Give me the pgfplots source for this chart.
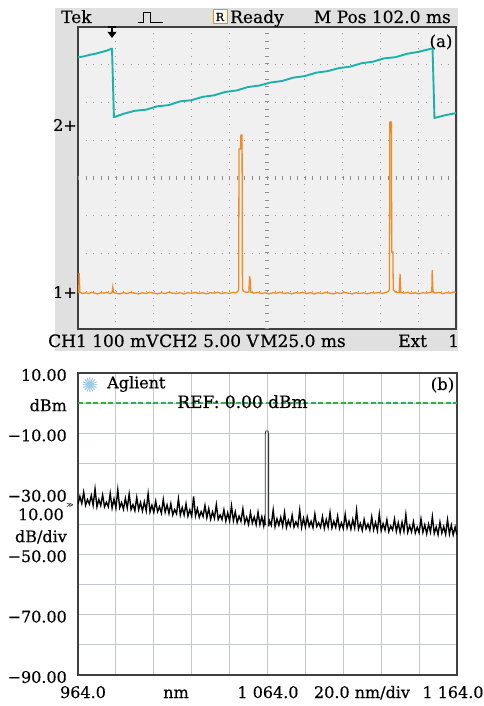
\documentclass[border=0pt]{standalone}
\usepackage{fontspec}
\setmainfont{DejaVu Serif}[FakeBold=0.4]
\newfontfamily\symfont{DejaVu Sans}
\usepackage{pgfplots}
\pgfplotsset{compat=1.18}
\definecolor{trcyan}{HTML}{1CB2AA}
\definecolor{trorange}{HTML}{F08A24}
\definecolor{scrbg}{HTML}{F0F0F0}
\definecolor{scrframe}{HTML}{E0E0E0}
\definecolor{scrgrid}{HTML}{9A9A9A}
\definecolor{osagrid}{HTML}{C3C7CE}
\definecolor{refgreen}{RGB}{40,180,75}
\definecolor{logoblue}{HTML}{9CCBE6}
\newcommand\fa{\fontsize{17}{20}\selectfont}
\newcommand\fb{\fontsize{16}{22}\selectfont}

\begin{document}
\begin{tikzpicture}
\begin{scope}[x=1pt,y=1pt]
  \path[use as bounding box] (0,0) rectangle (483,706);
  \fill[scrframe] (55,355) rectangle (458,698);
\end{scope}

% (a) oscilloscope screen, units are divisions
\begin{axis}[
  at={(78pt,377pt)}, anchor=south west, scale only axis,
  width=378pt, height=302pt,
  xmin=0, xmax=10, ymin=0, ymax=8,
  axis background/.style={fill=scrbg},
  axis line style={draw=black!75, line width=1.3pt},
  xtick={1,2,3,4,6,7,8,9}, ytick={1,2,3,5,6,7},
  xticklabels={}, yticklabels={}, major tick length=0pt,
  grid=major, grid style={scrgrid, line width=0.9pt, dash pattern=on 0.9pt off 6.66pt},
  extra x ticks={5}, extra y ticks={4}, extra x tick labels={}, extra y tick labels={},
  extra tick style={grid style={black!45, line width=3.5pt, dash pattern=on 0.9pt off 6.66pt}},
]
\addplot[trorange, line width=1.3pt] coordinates {
  (0,0.96) (0.02,0.97) (0.03,1.48) (0.05,0.97) (0.12,0.94) (0.2,0.96) (0.28,0.94) (0.36,0.97)
  (0.44,0.95) (0.52,0.93) (0.6,0.96) (0.68,0.95) (0.76,0.97) (0.84,0.94) (0.9,0.96) (0.92,1.11)
  (0.94,0.97) (1.0,0.95) (1.1,0.93) (1.2,0.96) (1.3,0.94) (1.4,0.97) (1.5,0.95) (1.6,0.93)
  (1.7,0.96) (1.8,0.94) (1.9,0.97) (2.0,0.95) (2.1,0.93) (2.2,0.96) (2.3,0.94) (2.4,0.97)
  (2.5,0.95) (2.6,0.94) (2.7,0.96) (2.8,0.93) (2.9,0.96) (3.0,0.95) (3.1,0.97) (3.2,0.94)
  (3.3,0.96) (3.4,0.93) (3.5,0.96) (3.6,0.95) (3.7,0.97) (3.8,0.94) (3.9,0.96) (4.0,0.94)
  (4.1,0.97) (4.18,0.96) (4.23,1.0) (4.25,1.05) (4.26,4.77) (4.30,4.77) (4.31,5.14) (4.34,5.14)
  (4.35,1.06) (4.38,1.0) (4.45,0.97) (4.52,0.98) (4.54,1.40) (4.56,1.25) (4.57,0.98) (4.65,0.95)
  (4.75,0.97) (4.85,0.94) (4.95,0.96) (5.05,0.93) (5.15,0.96) (5.25,0.95) (5.35,0.97) (5.45,0.94)
  (5.55,0.96) (5.65,0.93) (5.75,0.96) (5.85,0.95) (5.95,0.97) (6.05,0.94) (6.15,0.96) (6.25,0.93)
  (6.35,0.96) (6.45,0.94) (6.55,0.97) (6.65,0.95) (6.75,0.93) (6.85,0.96) (6.95,0.94) (7.05,0.97)
  (7.15,0.95) (7.25,0.93) (7.35,0.96) (7.45,0.94) (7.55,0.96) (7.65,0.93) (7.75,0.96) (7.85,0.95)
  (7.95,0.97) (8.05,0.94) (8.15,0.97) (8.2,0.99) (8.24,1.05) (8.25,5.48) (8.29,5.48) (8.30,2.04)
  (8.33,2.04) (8.34,1.05) (8.38,0.99) (8.45,0.96) (8.5,0.97) (8.52,1.46) (8.54,0.97) (8.62,0.95)
  (8.72,0.97) (8.82,0.94) (8.92,0.96) (9.02,0.93) (9.12,0.96) (9.22,0.95) (9.32,0.97) (9.36,0.98)
  (9.37,1.56) (9.39,0.98) (9.45,0.95) (9.55,0.97) (9.65,0.94) (9.75,0.96) (9.85,0.95) (9.95,0.98)
  (10,0.97)};
\addplot[trcyan, line width=1.9pt] coordinates {
  (0,7.20) (0.15,7.22) (0.3,7.26) (0.45,7.29) (0.6,7.33) (0.75,7.37) (0.88,7.42) (0.90,7.42)
  (0.95,5.62) (0.98,5.62) (1.2,5.70) (1.5,5.78) (1.8,5.81) (2.1,5.90) (2.4,5.93) (2.7,6.03)
  (3.0,6.06) (3.3,6.15) (3.6,6.19) (3.9,6.28) (4.2,6.32) (4.5,6.41) (4.8,6.45) (5.1,6.53)
  (5.4,6.57) (5.7,6.66) (6.0,6.70) (6.3,6.79) (6.6,6.83) (6.9,6.91) (7.2,6.95) (7.5,7.04)
  (7.8,7.08) (8.1,7.17) (8.4,7.20) (8.7,7.29) (9.0,7.34) (9.2,7.39) (9.36,7.43) (9.38,7.42)
  (9.43,5.59) (9.47,5.60) (9.7,5.66) (10,5.72)};
\end{axis}

% (b) optical spectrum
\begin{axis}[
  at={(78pt,31pt)}, anchor=south west, scale only axis,
  width=379pt, height=302pt,
  xmin=964, xmax=1164, ymin=-90, ymax=10,
  axis line style={draw=black!75, line width=1.2pt},
  xtick={964,984,...,1164}, ytick={-90,-80,-70,-60,-50,-40,-30,-20,-10,10},
  xticklabels={}, major tick length=0pt,
  yticklabels={−90.00,,−70.00,,−50.00,{10.00\\dB/div},−30.00,,−10.00,10.00},
  yticklabel style={font=\fb, align=center, inner sep=0pt, xshift=-11pt, yshift=-2pt},
  grid=major, grid style={osagrid, line width=0.9pt},
  extra y ticks={0}, extra y tick labels={dBm},
]
% REF level
\addplot[color=refgreen, line width=1.4pt, dash pattern=on 5pt off 2.5pt] coordinates {(964,0) (1164,0)};
% noise floor left of the line
\addplot[black, line width=1.4pt] coordinates {
  (964,-33.4) (965,-30.9) (966,-33.2) (967,-29.5) (968,-33.8) (969,-31.9) (970,-33.4) (971,-30.6)
  (972,-33.8) (973,-28.4) (974,-34.3) (975,-31.9) (976,-33.9) (977,-30.4) (978,-34.3) (979,-32.8)
  (980,-34.3) (981,-29.9) (982,-34.7) (983,-31.7) (984,-34.7) (985,-28.7) (986,-34.6) (987,-32.9)
  (988,-35.1) (989,-31.5) (990,-34.7) (991,-30.1) (992,-35.2) (993,-33.6) (994,-35.6) (995,-31.2)
  (996,-35.2) (997,-32.9) (998,-35.7) (999,-32.7) (1000,-35.6) (1001,-30.0) (1002,-36.0) (1003,-33.8)
  (1004,-36.1) (1005,-32.5) (1006,-35.9) (1007,-34.3) (1008,-36.4) (1009,-31.9) (1010,-36.1) (1011,-33.7)
  (1012,-36.5) (1013,-33.3) (1014,-37.0) (1015,-35.2) (1016,-36.6) (1017,-31.7) (1018,-37.0) (1019,-34.6)
  (1020,-37.0) (1021,-33.3) (1022,-37.4) (1023,-35.3) (1024,-37.4) (1025,-30.9) (1026,-37.3) (1027,-34.9)
  (1028,-37.8) (1029,-35.9) (1030,-37.5) (1031,-33.9) (1032,-37.9) (1033,-34.9) (1034,-38.4) (1035,-36.0)
  (1036,-38.1) (1037,-33.6) (1038,-38.5) (1039,-37.0) (1040,-38.5) (1041,-35.3) (1042,-39.0) (1043,-36.3)
  (1044,-39.0) (1045,-34.0) (1046,-38.9) (1047,-36.0) (1048,-39.5) (1049,-37.4) (1050,-39.1) (1051,-35.0)
  (1052,-39.6) (1053,-37.8) (1054,-40.1) (1055,-36.2) (1056,-39.7) (1057,-37.7) (1058,-40.2) (1059,-36.1)
  (1060,-40.2) (1061,-37.6) (1062,-40.6) (1062.4,-38.5) (1062.8,-40.4)};
% laser line at 1064 nm
\addplot[black!80, line width=0.8pt] coordinates {
  (1062.8,-40.4) (1062.8,-10.3) (1063.1,-9.2) (1064.3,-9.2) (1064.6,-10.3) (1064.6,-40.8)};
% noise floor right of the line
\addplot[black, line width=1.4pt] coordinates {
  (1064.6,-40.8) (1065,-38.9) (1066,-40.4) (1067,-35.4) (1068,-40.9)
  (1069,-38.3) (1070,-40.4) (1071,-37.8) (1072,-40.7) (1073,-36.2) (1074,-41.1) (1075,-38.8) (1076,-40.6)
  (1077,-37.1) (1078,-41.0) (1079,-39.3) (1080,-40.8) (1081,-35.4) (1082,-41.1) (1083,-38.1) (1084,-41.0)
  (1085,-37.7) (1086,-40.8) (1087,-39.1) (1088,-41.2) (1089,-36.7) (1090,-40.8) (1091,-39.6) (1092,-41.1)
  (1093,-37.6) (1094,-41.4) (1095,-38.5) (1096,-41.0) (1097,-36.2) (1098,-41.3) (1099,-39.1) (1100,-41.1)
  (1101,-37.4) (1102,-41.5) (1103,-39.6) (1104,-41.5) (1105,-36.8) (1106,-41.3) (1107,-39.1) (1108,-41.7)
  (1109,-38.5) (1110,-41.3) (1111,-35.5) (1112,-41.7) (1113,-39.8) (1114,-42.1) (1115,-38.5) (1116,-41.6)
  (1117,-40.0) (1118,-42.0) (1119,-37.7) (1120,-41.9) (1121,-39.5) (1122,-42.2) (1123,-36.7) (1124,-42.2)
  (1125,-39.9) (1126,-42.0) (1127,-38.6) (1128,-42.5) (1129,-40.7) (1130,-42.0) (1131,-38.4) (1132,-42.4)
  (1133,-39.6) (1134,-42.8) (1135,-39.4) (1136,-42.4) (1137,-36.9) (1138,-42.7) (1139,-40.6) (1140,-42.6)
  (1141,-39.3) (1142,-43.0) (1143,-41.1) (1144,-42.9) (1145,-38.4) (1146,-42.7) (1147,-40.3) (1148,-43.2)
  (1149,-40.1) (1150,-42.7) (1151,-37.6) (1152,-43.1) (1153,-41.0) (1154,-43.5) (1155,-39.4) (1156,-43.0)
  (1157,-40.9) (1158,-43.4) (1159,-38.6) (1160,-43.3) (1161,-40.4) (1162,-43.6) (1163,-41.0) (1164,-43.6)};
\end{axis}

\begin{scope}[x=1pt,y=1pt]
  % scope header
  \node[anchor=base west, inner sep=0, font=\fa] at (61,683) {Tek};
  \draw[black, line width=0.9pt] (138,684) -- (143,684) -- (143,694) -- (150,694) -- (150,684) -- (163,684);
  \draw[trorange, line width=1pt, fill=white] (213,682) rectangle (227,696);
  \node[font=\fontsize{11}{11}\selectfont, inner sep=0] at (220,689) {R};
  \node[anchor=base west, inner sep=0, font=\fa] at (230,683) {Ready};
  \node[anchor=base east, inner sep=0, font=\fa] at (451,683) {M Pos 102.0 ms};
  % trigger marker
  \draw[black, line width=1.5pt] (108,679) -- (116,679);
  \draw[black, line width=1.6pt] (112,679) -- (112,673);
  \fill[black] (107.5,674) -- (116.5,674) -- (112,668) -- cycle;
  \node[font=\fontsize{16.5}{18}\selectfont, inner sep=0] at (441,664) {(a)};
  \node[anchor=east, font=\fontsize{16}{18}\selectfont, inner sep=0] at (77,581) {2+};
  \node[anchor=east, font=\fontsize{16}{18}\selectfont, inner sep=0] at (77,414) {1+};
  % scope footer
  \node[anchor=base west, inner sep=0, font=\fa] at (48,359) {CH1 100 mV};
  \node[anchor=base west, inner sep=0, font=\fa] at (159,359) {CH2 5.00 V};
  \node[anchor=base west, inner sep=0, font=\fa] at (260,359) {M25.0 ms};
  \node[anchor=base west, inner sep=0, font=\fa] at (398,359) {Ext};
  \node[anchor=base west, inner sep=0, font=\fa] at (448,359) {1};
  % spectrum annotations
  \node[text=logoblue, font=\symfont\fontsize{20}{20}\selectfont, inner sep=0] at (90,321) {✺};
  \node[anchor=west, font=\fb, inner sep=0] at (107,322) {Aglient};
  \node[anchor=base, font=\fontsize{17}{20}\selectfont, inner sep=0] at (242.5,298) {REF: 0.00 dBm};
  \node[font=\fontsize{16.5}{18}\selectfont, inner sep=0] at (442.5,321) {(b)};
  \node[font=\symfont\fontsize{7}{7}\selectfont, inner sep=0] at (70,201) {≫};
  \node[anchor=base, font=\fb, inner sep=0] at (83,8) {964.0};
  \node[anchor=base, font=\fb, inner sep=0] at (176,8) {nm};
  \node[anchor=base, font=\fb, inner sep=0] at (268,8) {1 064.0};
  \node[anchor=base, font=\fb, inner sep=0] at (362,8) {20.0 nm/div};
  \node[anchor=base, font=\fb, inner sep=0] at (453,8) {1 164.0};
\end{scope}
\end{tikzpicture}
\end{document}
